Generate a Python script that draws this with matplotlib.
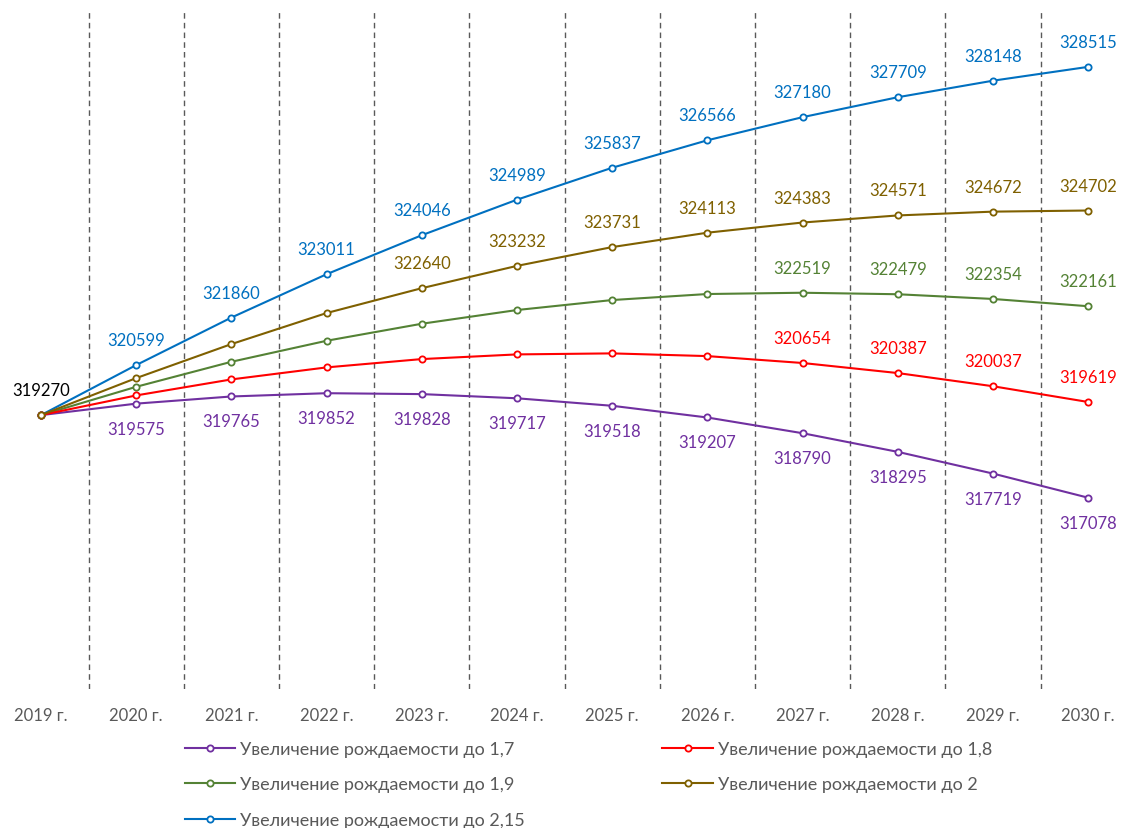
import matplotlib.pyplot as plt
import numpy as np

plt.rcParams['font.family'] = ['Lato', 'DejaVu Sans']

# данные
years = ['2019 г.', '2020 г.', '2021 г.', '2022 г.', '2023 г.', '2024 г.',
         '2025 г.', '2026 г.', '2027 г.', '2028 г.', '2029 г.', '2030 г.']

tfr_17 = [319270, 319575, 319765, 319852, 319828, 319717, 319518, 319207, 318790, 318295, 317719, 317078]
tfr_18 = [319270, 319793, 320218, 320537, 320758, 320882, 320909, 320837, 320654, 320387, 320037, 319619]
tfr_19 = [319270, 320022, 320686, 321244, 321696, 322060, 322325, 322485, 322519, 322479, 322354, 322161]
tfr_20 = [319270, 320253, 321156, 321980, 322640, 323232, 323731, 324113, 324383, 324571, 324672, 324702]
tfr_215 = [319270, 320599, 321860, 323011, 324046, 324989, 325837, 326566, 327180, 327709, 328148, 328515]

# серия: (значения, цвет, подпись, с какого года подписи, подписи сверху?)
series = [
    (tfr_17, '#7030A0', 'Увеличение рождаемости до 1,7', 1, False),
    (tfr_19, '#548235', 'Увеличение рождаемости до 1,9', 8, True),
    (tfr_215, '#0070C0', 'Увеличение рождаемости до 2,15', 1, True),
    (tfr_18, '#FF0000', 'Увеличение рождаемости до 1,8', 8, True),
    (tfr_20, '#7F6000', 'Увеличение рождаемости до 2', 4, True),
]

fig = plt.figure(figsize=(11.34, 8.29), dpi=100)
ax = fig.add_axes([-0.0058, 0.1677, 1.0073, 0.8179])
x = np.arange(len(years))

for vals, color, label, start, above in series:
    ax.plot(x, vals, color=color, lw=1.5, marker='o', ms=4.5, mfc='white',
            mec=color, mew=1.3, label=label, zorder=3)
    for i in range(start, len(x)):
        off = 18 if above else -18
        ax.annotate(str(vals[i]), (x[i], vals[i]), xytext=(0, off),
                    textcoords='offset points', ha='center', va='center',
                    color=color, fontsize=12)

ax.annotate(str(tfr_17[0]), (0, tfr_17[0]), xytext=(0, 18),
            textcoords='offset points', ha='center', va='center',
            color='black', fontsize=12)

# пунктирные разделители между годами
for b in np.arange(0.5, len(years) - 1, 1):
    ax.axvline(b, color='#595959', lw=1, ls=(0, (4, 3)), zorder=1)

ax.set_xlim(-0.5, len(years) - 0.5)
ax.set_ylim(312000, 330000)
ax.set_xticks(x)
ax.set_xticklabels(years, color='#595959', fontsize=12)
ax.tick_params(axis='x', length=0, pad=13)
ax.set_yticks([])
for s in ax.spines.values():
    s.set_visible(False)

fig.legend(loc='upper left', bbox_to_anchor=(0.163, 0.105), ncol=2, frameon=False,
           fontsize=13, labelcolor='#595959', handlelength=2.8, handletextpad=0.28,
           columnspacing=7.6, labelspacing=1.08, borderpad=0, borderaxespad=0)

fig.savefig('out.png', dpi=100)
